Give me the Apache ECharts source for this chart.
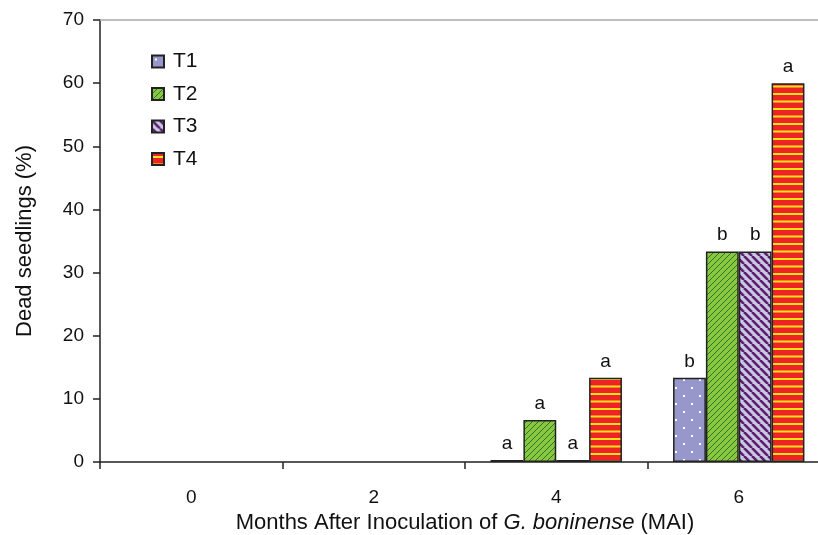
<!DOCTYPE html>
<html><head><meta charset="utf-8">
<script src="https://cdn.jsdelivr.net/npm/echarts@6/dist/echarts.min.js"></script>
<style>html,body{margin:0;padding:0;background:#fff}#c{width:818px;height:535px}</style>
</head><body><div id="c"></div>
<script>
const categories = ['0', '2', '4', '6'];
const seriesNames = ['T1', 'T2', 'T3', 'T4'];
const T1 = [0, 0, 0.3, 13.33];
const T2 = [0, 0, 6.67, 33.33];
const T3 = [0, 0, 0.3, 33.33];
const T4 = [0, 0, 13.33, 60];
const T1_letters = ['', '', 'a', 'b'];
const T2_letters = ['', '', 'a', 'b'];
const T3_letters = ['', '', 'a', 'b'];
const T4_letters = ['', '', 'a', 'a'];
const yTicks = { min: 0, max: 70, interval: 10 };

function mk(w, h, draw) {
  const c = document.createElement('canvas');
  c.width = w; c.height = h;
  const g = c.getContext('2d');
  draw(g, w, h);
  return c;
}
const pT1 = mk(16, 16, (g, w, h) => {
  g.fillStyle = '#9897CB'; g.fillRect(0, 0, w, h);
  g.fillStyle = '#ffffff';
  g.fillRect(3, 3, 2, 2); g.fillRect(11, 11, 2, 2);
});
const pT2 = mk(6, 6, (g, w, h) => {
  g.fillStyle = '#8CC63F'; g.fillRect(0, 0, w, h);
  g.fillStyle = '#1E7A2E';
  for (let i = 0; i < 6; i += 2) { g.fillRect(5 - i, i, 1, 1); g.fillRect(5 - i - 1 < 0 ? 5 : 5 - i - 1, i + 1, 1, 1); }
});
const pT3 = mk(8, 8, (g, w, h) => {
  g.fillStyle = '#CBC8E6'; g.fillRect(0, 0, w, h);
  g.strokeStyle = '#5A1E6B'; g.lineWidth = 2.6;
  for (let k = -8; k <= 16; k += 8) {
    g.beginPath(); g.moveTo(k, 0); g.lineTo(k + 8, 8); g.stroke();
  }
});
const pT4 = mk(8, 15, (g, w, h) => {
  g.fillStyle = '#EE2326'; g.fillRect(0, 0, w, h);
  g.fillStyle = '#FFE21A';
  g.fillRect(0, 3, w, 2); g.fillRect(0, 10.5, w, 2);
});
const patterns = [pT1, pT2, pT3, pT4];
const data = [T1, T2, T3, T4];
const letters = [T1_letters, T2_letters, T3_letters, T4_letters];

const chart = echarts.init(document.getElementById('c'), null, { renderer: 'canvas' });
chart.setOption({
  animation: false,
  backgroundColor: '#fff',
  textStyle: { fontFamily: 'Arial, Liberation Sans, sans-serif' },
  grid: { left: 100, width: 730, top: 20, bottom: 73, containLabel: false, outerBoundsMode: 'none' },
  legend: {
    orient: 'vertical', left: 146, top: 46,
    itemWidth: 12, itemHeight: 12, itemGap: 11.5,
    data: seriesNames,
    textStyle: { fontSize: 21, color: '#111', padding: [0, 0, 0, 4] },
    icon: 'rect'
  },
  xAxis: [{
    type: 'category', data: categories,
    axisLine: { lineStyle: { color: '#222', width: 1.5 } },
    axisTick: { show: true, inside: false, length: 7, lineStyle: { color: '#222', width: 1.5 } },
    axisLabel: { fontSize: 19, color: '#111', margin: 26 },
    name: '{n|Months After Inoculation of }{i|G. boninense}{n| (MAI)}',
    nameLocation: 'middle', nameGap: 50,
    nameTextStyle: {
      rich: {
        n: { fontSize: 22, color: '#111' },
        i: { fontSize: 22, color: '#111', fontStyle: 'italic' }
      }
    }
  }, {
    type: 'category', data: categories, position: 'top',
    axisLine: { lineStyle: { color: '#aaa', width: 1.5 } },
    axisTick: { show: false }, axisLabel: { show: false }
  }],
  yAxis: {
    type: 'value', min: yTicks.min, max: yTicks.max, interval: yTicks.interval,
    axisLine: { show: true, lineStyle: { color: '#222', width: 1.5 } },
    axisTick: { show: true, inside: false, length: 7, lineStyle: { color: '#222', width: 1.5 } },
    splitLine: { show: false },
    axisLabel: { fontSize: 19, color: '#111', margin: 16 },
    name: 'Dead seedlings (%)', nameLocation: 'middle', nameGap: 64, nameRotate: 90,
    nameTextStyle: { fontSize: 22, color: '#111' }
  },
  series: seriesNames.map((n, i) => ({
    name: n, type: 'bar',
    data: data[i].map(v => v === 0 ? { value: v, itemStyle: { borderWidth: 0 } } : v),
    barWidth: '18%', barGap: '0%',
    itemStyle: { color: { image: patterns[i], repeat: 'repeat' }, borderColor: '#222', borderWidth: 1.5 },
    label: {
      show: true, position: 'top', distance: 7, fontSize: 19, color: '#111',
      formatter: p => letters[i][p.dataIndex]
    }
  }))
});
</script></body></html>
